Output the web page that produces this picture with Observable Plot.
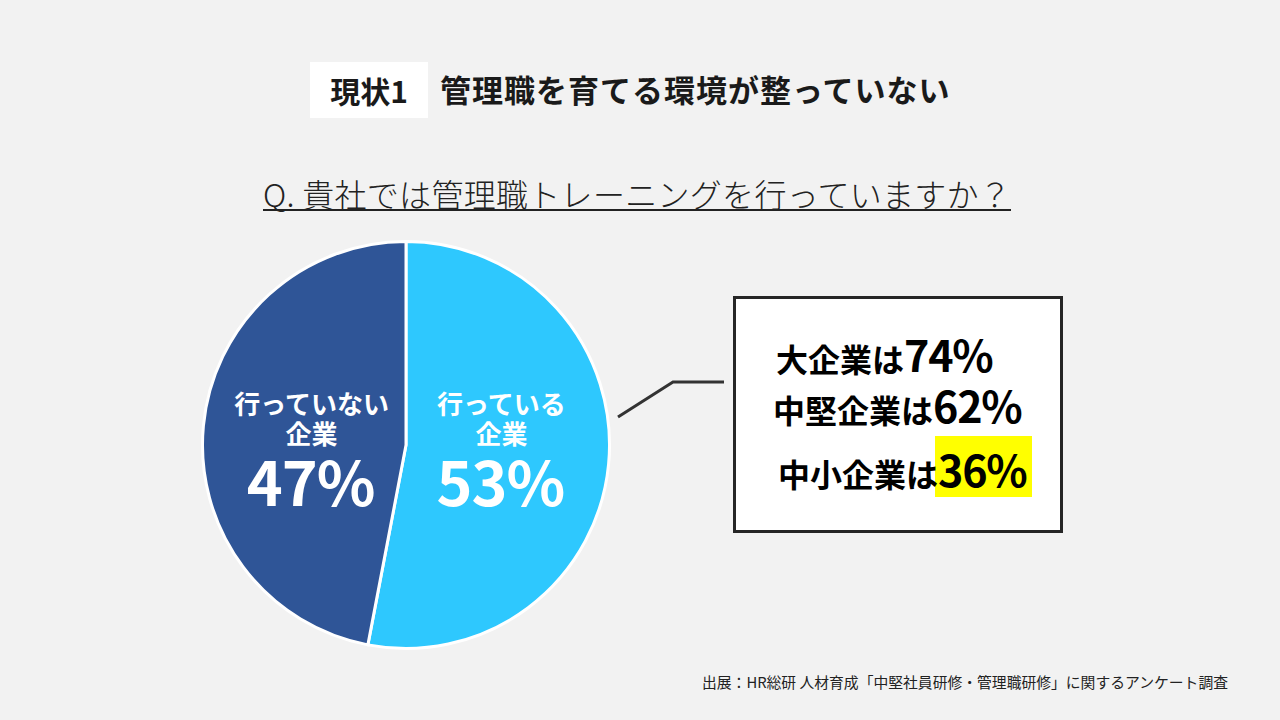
<!DOCTYPE html>
<html lang="ja">
<head>
<meta charset="utf-8">
<script src="https://cdn.jsdelivr.net/npm/d3@7"></script>
<script src="https://cdn.jsdelivr.net/npm/@observablehq/plot@0.6"></script>
<style>
  html, body { margin: 0; padding: 0; }
  body { width: 1280px; height: 720px; background: #f2f2f2; position: relative; overflow: hidden;
         font-family: "Noto Sans CJK JP", "Noto Sans", sans-serif; color: #1a1a1a; }
  .abs { position: absolute; white-space: nowrap; }
  #tagbox { left: 310px; top: 62px; width: 118px; height: 56px; background: #fff;
            display: flex; align-items: center; justify-content: center;
            font-weight: 700; font-size: 30px; line-height: 1; }
  #title { left: 440px; top: 73px; font-weight: 700; font-size: 31px; line-height: 31px; letter-spacing: 1px; }
  #question { left: 263px; top: 177px; font-weight: 300; font-size: 32px; line-height: 32px;
              letter-spacing: 0.3px; border-bottom: 2px solid #222; color: #222; }
  #source { right: 52px; top: 673px; font-size: 14.8px; line-height: 18px; color: #222; }
</style>
</head>
<body>
<script>
// ---- data ----
const categories = ["行っている企業", "行っていない企業"];
const labelLines = ["行っている\n企業", "行っていない\n企業"];
const shares = [53, 47];
const segments = ["大企業", "中堅企業", "中小企業"];
const segmentShares = [74, 62, 36];
const titleTag = "現状1";
const titleText = "管理職を育てる環境が整っていない";
const questionText = "Q. 貴社では管理職トレーニングを行っていますか？";
const sourceText = "出展：HR総研 人材育成「中堅社員研修・管理職研修」に関するアンケート調査";

// ---- styles ----
const sliceColors = ["#2ec8fe", "#2f5597"];

// ---- HTML text ----
function addDiv(id, text) {
  const d = document.createElement("div");
  d.id = id; d.className = "abs"; d.textContent = text;
  document.body.appendChild(d);
  return d;
}
addDiv("tagbox", titleTag);
addDiv("title", titleText);
addDiv("question", questionText);
addDiv("source", sourceText);

// ---- pie via Plot ----
const pie = d3.pie().sort(null).value(d => d.value);
const table = categories.map((c, i) => ({
  category: c, label: labelLines[i], value: shares[i], color: sliceColors[i]
}));
const arcs = pie(table);
const R = 205 / 210;   // radius in data units
const k = 0.465;       // label radius fraction
const labels = arcs.map(a => {
  const mid = (a.startAngle + a.endAngle) / 2;
  return { ...a.data, lx: k * R * Math.sin(mid), ly: 0 };
});

function pieMark(index, scales, values, dimensions) {
  const cx = scales.x(0), cy = scales.y(0);
  const rpx = Math.abs(scales.x(R) - scales.x(0));
  const g = d3.create("svg:g").attr("transform", `translate(${cx},${cy})`);
  const arcGen = d3.arc().innerRadius(0).outerRadius(rpx - 1.5);
  g.selectAll("path").data(arcs).join("path")
    .attr("d", arcGen)
    .attr("fill", d => d.data.color)
    .attr("stroke", "#ffffff")
    .attr("stroke-width", 3)
    .attr("stroke-linejoin", "round");
  return g.node();
}

const plot = Plot.plot({
  width: 420, height: 420, margin: 0,
  x: { domain: [-1, 1], axis: null },
  y: { domain: [-1, 1], axis: null },
  style: { background: "transparent", fontFamily: "'Noto Sans CJK JP', sans-serif", overflow: "visible" },
  marks: [
    pieMark,
    Plot.text(labels, { x: "lx", y: "ly", text: "label", fill: "white", fontSize: 26, fontWeight: 700,
                        lineHeight: 1.15, dy: -26 }),
    Plot.text(labels, { x: "lx", y: "ly", text: d => d.value + "%", fill: "white", fontSize: 61, fontWeight: 700,
                        dy: 41, dx: -1 })
  ]
});
plot.style.position = "absolute";
plot.style.left = "196px";
plot.style.top = "235px";
plot.querySelectorAll("text").forEach(t => {
  if (/%$/.test(t.textContent)) t.style.letterSpacing = "-1px";
});
document.body.appendChild(plot);

// ---- callout (annotation) ----
const svg = d3.create("svg").attr("width", 1280).attr("height", 720)
  .style("position", "absolute").style("left", "0px").style("top", "0px")
  .style("font-family", "'Noto Sans CJK JP', sans-serif");
svg.append("polyline")
  .attr("points", "618,417 673,382 724,382")
  .attr("fill", "none").attr("stroke", "#333").attr("stroke-width", 3);
svg.append("rect")
  .attr("x", 734.5).attr("y", 297.5).attr("width", 327).attr("height", 234)
  .attr("fill", "#fff").attr("stroke", "#262626").attr("stroke-width", 3);
svg.append("rect")
  .attr("x", 935).attr("y", 436).attr("width", 97).attr("height", 61)
  .attr("fill", "#ffff00");
const lineX = [776, 773, 778];
const lineY = [372, 423, 487];
segments.forEach((s, i) => {
  const t = svg.append("text").attr("x", lineX[i]).attr("y", lineY[i]).attr("fill", "#000");
  t.append("tspan").attr("font-size", 32).attr("font-weight", 700).text(s + "は");
  t.append("tspan").attr("font-size", 43).attr("font-weight", 700)
    .style("letter-spacing", "-1.2px").text(segmentShares[i] + "%");
});
document.body.appendChild(svg.node());
</script>
</body>
</html>
